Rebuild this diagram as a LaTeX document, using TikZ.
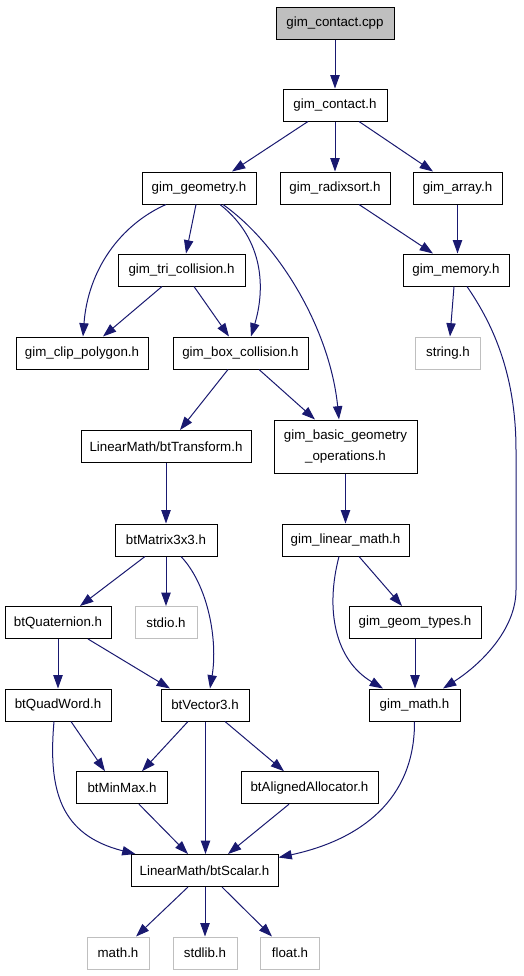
\documentclass[tikz,border=0pt]{standalone}
\usepackage{fontspec}
\setmainfont{Liberation Sans}
\usetikzlibrary{arrows.meta,calc}
\definecolor{edgecol}{HTML}{191970}
\definecolor{graycol}{HTML}{BFBFBF}
\begin{document}
\begin{tikzpicture}[x=0.75pt,y=-0.75pt,
  nd/.style={draw=black,line width=0.75pt,fill=white,inner sep=0pt,minimum height=24pt,
    font=\fontsize{10}{16}\selectfont,align=center},
  sys/.style={nd,draw=graycol},
  w/.style={minimum width={#1*0.75pt}},
  ed/.style={draw=edgecol,line width=0.75pt,-{Triangle[length=10pt,width=7pt]}}]
\useasboundingbox (0,0) rectangle (524,976);
% nodes
\node[nd,fill=graycol,w=118] (cpp) at (335,23) {gim\_contact.cpp};
\node[nd,w=104] (ch) at (335,105) {gim\_contact.h};
\node[nd,w=114] (geo) at (199,188) {gim\_geometry.h};
\node[nd,w=110] (radix) at (335,188) {gim\_radixsort.h};
\node[nd,w=89] (arr) at (457.5,188) {gim\_array.h};
\node[nd,w=127] (tri) at (181.5,270) {gim\_tri\_collision.h};
\node[nd,w=106] (mem) at (456,270) {gim\_memory.h};
\node[nd,w=132] (clip) at (82,353) {gim\_clip\_polygon.h};
\node[nd,w=135] (box) at (240.5,353) {gim\_box\_collision.h};
\node[sys,w=65] (str) at (448,353) {string.h};
\node[nd,w=170] (tr) at (166,446.5) {LinearMath/btTransform.h};
\node[nd,w=143,minimum height={53*0.75pt}] (basic) at (345.5,446.5) {gim\_basic\_geometry\\\_operations.h};
\node[nd,w=102] (mat) at (166,540) {btMatrix3x3.h};
\node[nd,w=127] (lin) at (345.5,540) {gim\_linear\_math.h};
\node[nd,w=106] (quat) at (58,622.5) {btQuaternion.h};
\node[sys,w=62] (stdio) at (166,622.5) {stdio.h};
\node[nd,w=132] (gtypes) at (415,622.5) {gim\_geom\_types.h};
\node[nd,w=106] (qw) at (58,705) {btQuadWord.h};
\node[nd,w=88] (vec) at (205,705) {btVector3.h};
\node[nd,w=91] (gmath) at (414.5,705) {gim\_math.h};
\node[nd,w=91] (mm) at (122,787.7) {btMinMax.h};
\node[nd,w=137] (al) at (309.5,787.7) {btAlignedAllocator.h};
\node[nd,w=147] (sc) at (204.5,870.5) {LinearMath/btScalar.h};
\node[sys,w=62] (mathh) at (118,953) {math.h};
\node[sys,w=64] (stdlib) at (205,953) {stdlib.h};
\node[sys,w=59] (flt) at (290,953) {float.h};
% edges
\draw[ed] (cpp.south) -- (ch.north);
\draw[ed] ($(ch.south)+(-27,0)$) -- ($(geo.north)+(33,0)$);
\draw[ed] (ch.south) -- (radix.north);
\draw[ed] ($(ch.south)+(24,0)$) -- ($(arr.north)+(-24.5,0)$);
\draw[ed] ($(geo.south)+(-33,0)$) .. controls (120,225) and (88,270) .. ($(clip.north)+(1,0)$);
\draw[ed] ($(geo.south)+(-3,0)$) -- ($(tri.north)+(4.5,0)$);
\draw[ed] ($(geo.south)+(21,0)$) .. controls (265,240) and (265,290) .. ($(box.north)+(10.5,0)$);
\draw[ed] ($(geo.south)+(24,0)$) .. controls (280,245) and (330,330) .. ($(basic.north)+(-6.5,0)$);
\draw[ed] ($(radix.south)+(24,0)$) -- ($(mem.north)+(-23,0)$);
\draw[ed] (arr.south) -- ($(mem.north)+(1.5,0)$);
\draw[ed] ($(tri.south)+(-19.5,0)$) -- ($(clip.north)+(21,0)$);
\draw[ed] ($(tri.south)+(12.5,0)$) -- ($(box.north)+(-11.5,0)$);
\draw[ed] ($(mem.south)+(-2,0)$) -- ($(str.north)+(2,0)$);
\draw[ed] ($(mem.south)+(11,0)$) .. controls (490,320) and (516,370) .. (516,450) -- (516,590)
   .. controls (516,630) and (480,665) .. ($(gmath.north)+(28.5,0)$);
\draw[ed] ($(box.south)+(-12.5,0)$) -- ($(tr.north)+(14,0)$);
\draw[ed] ($(box.south)+(18.5,0)$) -- ($(basic.north)+(-30.5,0)$);
\draw[ed] (tr.south) -- (mat.north);
\draw[ed] (basic.south) -- (lin.north);
\draw[ed] ($(mat.south)+(-21,0)$) -- ($(quat.north)+(22,0)$);
\draw[ed] (mat.south) -- (stdio.north);
\draw[ed] ($(mat.south)+(15,0)$) .. controls (208,585) and (218,640) .. ($(vec.north)+(5,0)$);
\draw[ed] ($(lin.south)+(-6.5,0)$) .. controls (325,610) and (335,660) .. ($(gmath.north)+(-31.5,0)$);
\draw[ed] ($(lin.south)+(13.5,0)$) -- ($(gtypes.north)+(-13,0)$);
\draw[ed] (gtypes.south) -- ($(gmath.north)+(0.5,0)$);
\draw[ed] (quat.south) -- (qw.north);
\draw[ed] ($(quat.south)+(30,0)$) -- ($(vec.north)+(-35,0)$);
\draw[ed] ($(qw.south)+(13,0)$) -- ($(mm.north)+(-17,0)$);
\draw[ed] ($(qw.south)+(-4,0)$) .. controls (48,790) and (60,835) .. ($(sc.north)+(-69,0)$);
\draw[ed] ($(vec.south)+(-17,0)$) -- ($(mm.north)+(20,0)$);
\draw[ed] ($(vec.south)+(0.5,0)$) -- ($(sc.north)+(1,0)$);
\draw[ed] ($(vec.south)+(20,0)$) -- ($(al.north)+(-25.5,0)$);
\draw[ed] (gmath.south) .. controls (415,800) and (360,840) .. ($(sc.north east)+(0,3.5)$);
\draw[ed] ($(mm.south)+(17,0)$) -- ($(sc.north)+(-16.5,0)$);
\draw[ed] ($(al.south)+(-20.5,0)$) -- ($(sc.north)+(23.5,0)$);
\draw[ed] ($(sc.south)+(-16.5,0)$) -- ($(mathh.north)+(18,0)$);
\draw[ed] ($(sc.south)+(0.5,0)$) -- (stdlib.north);
\draw[ed] ($(sc.south)+(17.5,0)$) -- ($(flt.north)+(-18,0)$);
\end{tikzpicture}
\end{document}
